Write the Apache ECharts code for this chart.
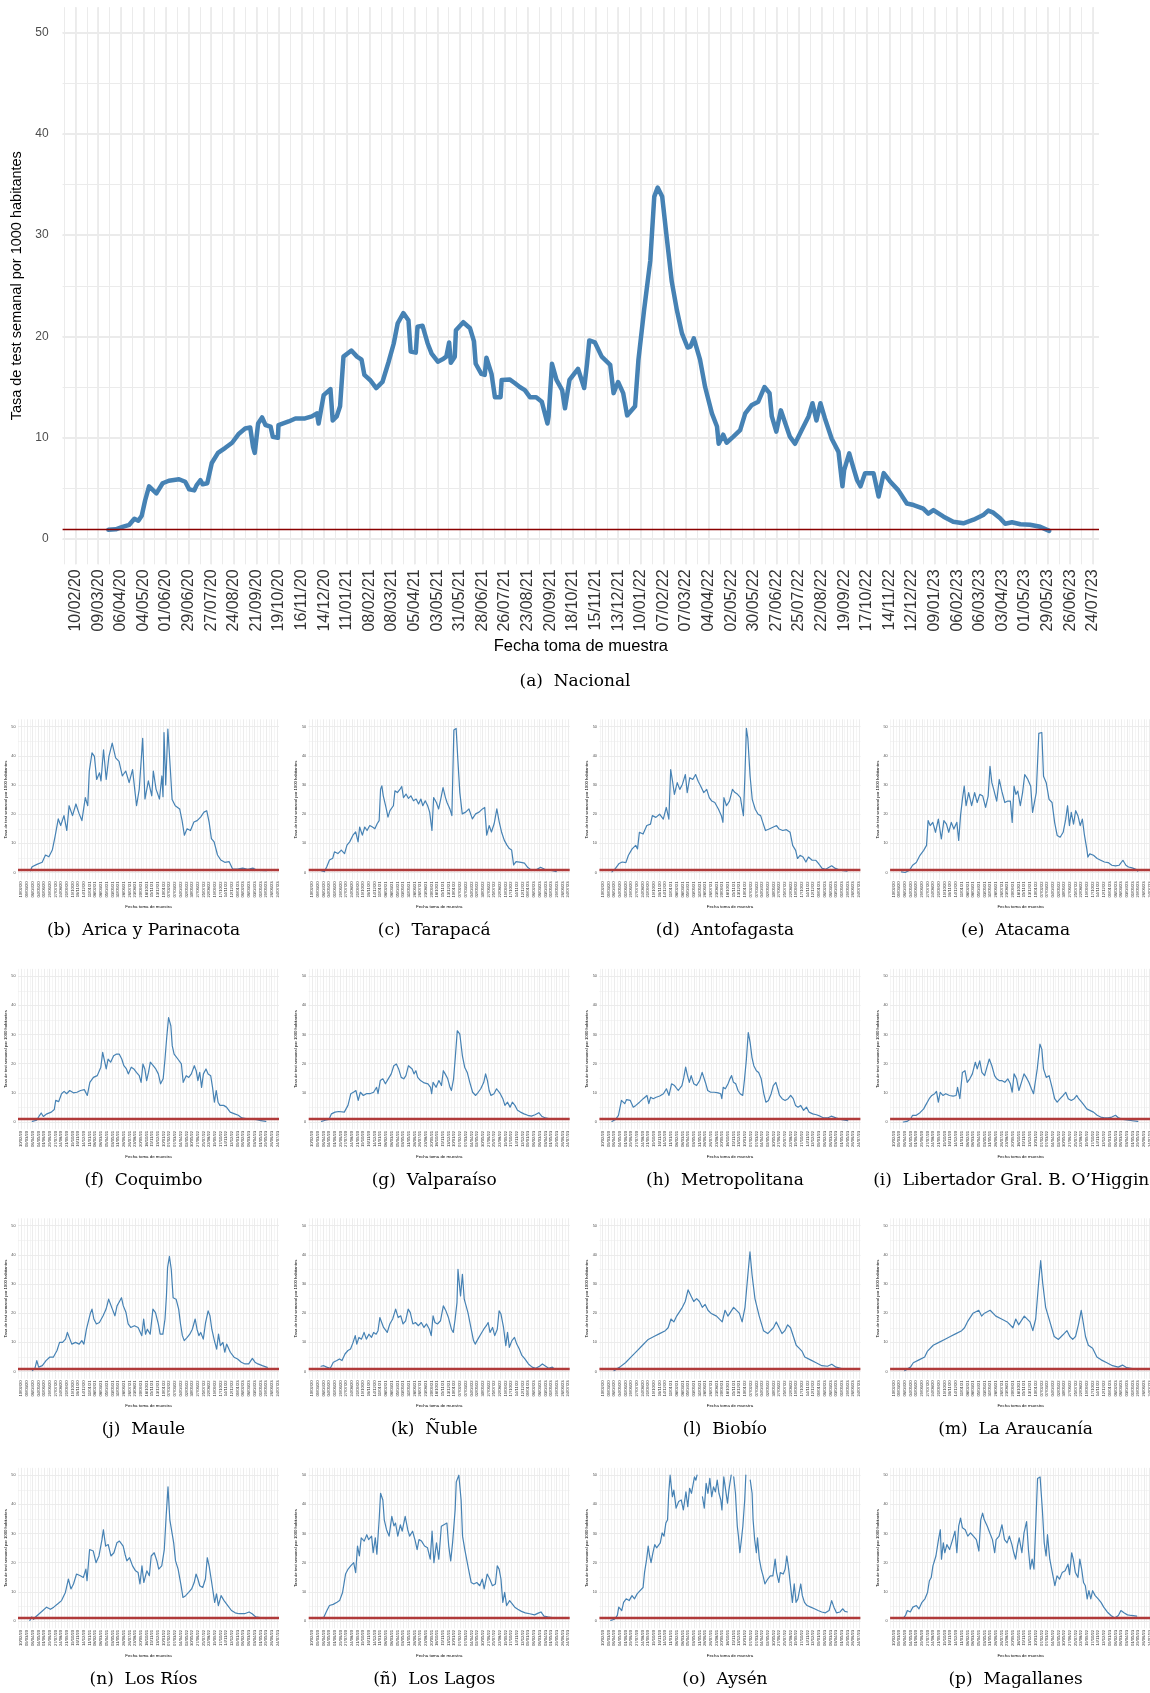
<!DOCTYPE html>
<html>
<head>
<meta charset="utf-8">
<script src="https://cdn.jsdelivr.net/npm/echarts@6/dist/echarts.min.js"></script>
<style>
  html, body { margin: 0; padding: 0; background: #fff; }
  #chart { width: 1150px; height: 1693px; }
</style>
</head>
<body>
<div id="chart"></div>
<script>
// x values are weeks counted from 10/02/20, y is the weekly test rate per 1000 inhabitants
const dateLabels = ['10/02/20','09/03/20','06/04/20','04/05/20','01/06/20','29/06/20','27/07/20','24/08/20',
  '21/09/20','19/10/20','16/11/20','14/12/20','11/01/21','08/02/21','08/03/21','05/04/21','03/05/21','31/05/21',
  '28/06/21','26/07/21','23/08/21','20/09/21','18/10/21','15/11/21','13/12/21','10/01/22','07/02/22','07/03/22',
  '04/04/22','02/05/22','30/05/22','27/06/22','25/07/22','22/08/22','19/09/22','17/10/22','14/11/22','12/12/22',
  '09/01/23','06/02/23','06/03/23','03/04/23','01/05/23','29/05/23','26/06/23','24/07/23']
const yTicks = [0, 10, 20, 30, 40, 50]
const threshold = 1

const nacional = [[5.8,0.9],[7.1,0.95],[8.3,1.2],[9.5,1.4],[10.4,2.0],[11.1,1.8],[11.7,2.3],[12.3,3.8],[13,5.2],[14.3,4.5],
  [15.4,5.5],[16.5,5.75],[18.3,5.9],[19.4,5.65],[20.1,4.9],[21,4.8],[21.4,5.3],[22.1,5.8],[22.5,5.4],[23.3,5.5],[24.1,7.5],
  [25.2,8.5],[26.5,9.0],[27.7,9.5],[28.9,10.4],[30,10.9],[30.9,11.0],[31.4,9.1],[31.7,8.5],[32.3,11.4],[33,12.0],[33.6,11.25],
  [34.5,11.1],[34.9,10.1],[35.8,10.0],[35.9,11.25],[37.7,11.6],[38.9,11.9],[40.6,11.9],[41.8,12.1],[42.7,12.4],[43,11.4],
  [43.9,14.2],[45.1,14.8],[45.5,11.7],[46.2,12.1],[46.8,13.1],[47.4,18.0],[48.8,18.6],[49.8,18.0],[50.6,17.7],[51.1,16.2],
  [52.1,15.7],[53.2,14.9],[54.3,15.5],[55.4,17.5],[56.3,19.3],[57,21.3],[58,22.3],[58.9,21.6],[59.3,18.5],[60.2,18.4],
  [60.5,20.95],[61.4,21.05],[62.3,19.3],[63,18.3],[64.1,17.5],[65.1,17.8],[65.6,18.0],[66.1,19.4],[66.4,17.4],[67.1,18.0],
  [67.3,20.6],[68.6,21.4],[69.8,20.8],[70.5,19.5],[70.8,17.3],[71.8,16.3],[72.4,16.2],[72.7,17.9],[73.6,16.3],[74.2,14.0],
  [75.2,14.0],[75.4,15.7],[76.8,15.75],[77.7,15.4],[78.6,15.0],[79.5,14.7],[80.4,14.0],[81.5,14.0],[82.5,13.55],[83.5,11.4],
  [83.7,12.1],[84.3,17.3],[85.1,15.7],[86.1,14.7],[86.6,12.9],[87.4,15.7],[88.9,16.8],[90,14.9],[90.5,17.3],[90.9,19.6],
  [91.9,19.4],[93.1,18.0],[94.6,17.2],[95.2,14.4],[96,15.5],[96.9,14.4],[97.6,12.2],[99,13.1],[99.6,17.7],[100.6,22.6],
  [101.7,27.5],[102.4,33.8],[103,34.7],[103.8,33.8],[104.6,29.8],[105.5,25.4],[106.4,22.6],[107.3,20.3],[108.3,18.9],
  [108.8,19.0],[109.4,19.8],[110.5,17.7],[111.4,15.0],[112.6,12.4],[113.5,11.1],[113.8,9.4],[114.6,10.3],[115.2,9.5],
  [116.4,10.1],[117.6,10.75],[118.5,12.4],[119.6,13.2],[120.8,13.55],[121.9,15.0],[122.8,14.4],[123.2,12.1],[124,10.6],
  [124.8,12.7],[125.6,11.4],[126.4,10.1],[127.3,9.4],[128.5,10.75],[129.7,12.1],[130.4,13.4],[131.1,11.7],[131.8,13.4],
  [132.6,11.9],[133.8,9.9],[135,8.6],[135.7,5.2],[136,6.8],[136.9,8.45],[137.6,7.1],[138.3,5.8],[138.9,5.2],[139.7,6.5],
  [141.2,6.5],[142.1,4.2],[143,6.5],[144.1,5.7],[145.6,4.8],[147.1,3.5],[148.3,3.35],[150,3.0],[150.9,2.5],[151.8,2.85],
  [153.6,2.2],[155.3,1.7],[157.1,1.55],[158.9,1.9],[160.7,2.4],[161.5,2.8],[162.4,2.6],[163.6,2.05],[164.5,1.5],[165.7,1.65],
  [167.2,1.45],[168.9,1.4],[170.7,1.2],[172.3,0.8]]

const arica = [[6.4,0.6],[7.6,2.0],[11,2.8],[14.7,3.5],[17,6.0],[19.4,5.4],[21.8,7.7],[23.7,12.2],[26,18.4],[27.7,16.1],
  [30,19.5],[32,14.4],[33.6,22.9],[36,19.5],[38.4,23.5],[40.7,20.1],[42.6,17.8],[45,25.7],[46.7,22.9],[47.8,34.8],[49.7,41.0],
  [51.4,39.8],[53,31.9],[55,34.2],[56,31.4],[57.8,42.1],[59.7,31.9],[61.6,39.8],[63.9,44.4],[66.3,39.3],[68.7,38.1],[71,33.1],
  [73.4,34.8],[75.8,30.8],[78.2,35.3],[81,22.9],[82.9,28.6],[85.3,46.0],[86.9,25.2],[89.3,31.4],[91.7,26.3],[92.8,34.8],
  [94.7,28.6],[97.1,25.2],[98.8,33.1],[99.6,26],[100.3,48],[101.5,30],[103,49.2],[104.8,35],[106,25],[108.2,22.9],[111.3,21.8],
  [113,17.8],[114.6,12.8],[116.5,15.0],[118.9,14.4],[121.3,17.3],[123.6,17.8],[126,19.0],[128.4,20.7],[130.3,21.2],[132,17.3],
  [133.6,11.6],[135.5,10.5],[137.9,6.0],[140.2,4.3],[143,3.5],[146.1,3.7],[148.5,1.2],[152,1.2],[155.6,1.5],[159.2,1.1],
  [162.7,1.5],[165,0.9],[167.5,0.7],[172.2,0.6]]

const tarapaca = [[6.4,0.6],[8.7,0.3],[10.4,2.0],[12.3,4.3],[14.6,4.9],[15.8,7.1],[18.2,6.5],[20.6,7.7],[21.7,8.2],[22.9,6.5],
  [24.6,9.4],[26.5,10.5],[28.8,12.8],[30.7,13.9],[32.4,10.5],[33.5,15.6],[35.4,12.8],[37.1,15.6],[38.7,14.4],[40.6,16.1],
  [42.5,15.6],[44.2,15.0],[45.8,16.7],[47.2,17.8],[48.2,28.6],[49.1,29.7],[50.1,26.3],[52,22.3],[53.4,19.0],[54.8,21.2],
  [57.2,22.9],[58.3,28.0],[60,27.4],[61.9,28.6],[63.1,29.5],[64.3,25.7],[66.1,26.9],[67.8,25.4],[69.5,26.3],[71.3,24.6],
  [73.2,25.2],[74.9,23.5],[76.5,25.2],[77.9,22.9],[79.6,24.6],[81.3,22.9],[82.7,20.7],[84.3,14.4],[85.5,25.7],[87.4,24.0],
  [89,21.8],[90.7,25.7],[92.1,29.1],[93.8,25.7],[94.9,24.0],[96.9,21.8],[98.3,19.5],[99.7,48.9],[101.3,49.4],[102.5,38.7],
  [103.9,27.4],[105.6,20.1],[108,20.7],[110.3,21.8],[112.7,18.4],[115,20.1],[117.4,20.7],[119.8,21.8],[121.4,22.3],[122.8,12.8],
  [124.5,16.1],[126.1,13.9],[128,16.7],[129.9,21.8],[131.6,17.3],[133.2,13.9],[135.1,11.1],[137,9.4],[138.7,8.2],[140.3,7.7],
  [141.7,2.6],[143.4,3.7],[146.9,3.5],[149.3,3.2],[151.7,1.7],[154,0.9],[157.6,0.9],[160.6,1.8],[163.5,1.1],[168.2,0.7],[171.7,0.3]]

const antofagasta = [[6.5,0.2],[9,1.4],[11.6,3.1],[13.7,3.6],[16.3,3.4],[18.1,5.9],[20.7,8.1],[23.2,9.3],[24.5,8.1],[25.8,13.8],
  [28.4,13.2],[31,16.1],[33.6,16.6],[34.9,19.5],[37.4,18.9],[40,20.0],[42.6,18.3],[44.7,22.3],[46.5,18.3],[47.8,35.3],[49.1,31.3],
  [50.4,26.8],[52.4,30.8],[54.2,28.5],[56,30.2],[58.1,33.6],[59.4,27.4],[61.2,32.5],[63.3,31.9],[65.3,33.6],[67.1,31.3],[68.9,29.6],
  [71,27.4],[73.1,28.5],[74.9,25.7],[76.7,24.5],[78.8,24.0],[81.4,21.7],[83.4,19.5],[84.5,17.2],[85.2,25.7],[87,22.9],[89.1,24.5],
  [91.2,28.5],[93,27.4],[94.8,26.8],[96.8,25.7],[98.1,21.7],[98.9,19.5],[99.9,32.5],[101,49.4],[102,46.0],[103.6,33.0],[105.1,25.1],
  [107.2,21.7],[109.2,20.0],[111,19.5],[112.9,16.6],[114.4,14.4],[117,14.9],[119.6,15.5],[122.2,16.1],[124,14.9],[126.5,14.4],
  [129.1,14.7],[131.7,13.8],[133.5,9.3],[135.6,7.6],[136.9,4.8],[138.7,5.9],[140.8,5.3],[142.8,3.6],[144.6,5.3],[147.2,4.2],
  [149.8,4.2],[151.6,3.1],[154.2,1.4],[156.8,1.1],[158.8,1.7],[160.9,2.3],[163.5,1.4],[166.6,0.8],[171.7,0.5]]

const atacama = [[5.7,0.2],[8.3,0],[11.4,0.8],[13.5,2.5],[16.1,3.4],[18.7,5.9],[21.3,7.6],[23.3,9.3],[24.4,17.8],[25.9,16.1],
  [27.7,17.2],[29.6,13.8],[31.6,18.3],[33.7,11.5],[35.5,17.8],[37.3,16.6],[38.9,13.8],[40.7,17.2],[42.5,14.9],[44.6,17.2],
  [45.9,11.0],[47.2,19.5],[48.5,25.1],[49.8,29.6],[51.1,22.9],[52.9,27.4],[55,22.9],[57.1,27.4],[58.9,24.0],[60.7,26.8],
  [62.8,26.2],[64.8,22.3],[66.6,26.2],[67.9,36.4],[69.2,30.8],[70.5,28.5],[72.6,24.5],[74.4,31.9],[76.2,27.9],[78.3,24.0],
  [80.4,24.5],[82.2,24.5],[83.5,17.2],[84.8,29.6],[86.1,26.8],[87.4,27.9],[89.2,22.9],[90.8,27.4],[92.3,33.6],[94.4,32.0],
  [96.5,29.6],[97.8,20.6],[99.1,20.0],[100.4,27.4],[102.2,47.7],[104.3,48.0],[105.5,33.0],[107.4,30.8],[109.4,25.1],[111.5,24.0],
  [113.3,17.2],[115.1,12.7],[117.2,12.1],[119.3,13.8],[121.1,18.3],[122.4,22.9],[123.7,16.1],[125,20.6],[126.6,16.6],[128.1,21.2],
  [129.7,19.5],[131.3,16.1],[132.8,18.3],[134.3,12.7],[135.9,8.1],[136.7,5.3],[138,6.4],[140.6,5.9],[143.2,4.8],[145.7,4.2],
  [148.3,3.6],[150.9,3.4],[153.5,2.5],[156.1,2.3],[158.7,2.5],[161.3,4.2],[163.4,2.5],[165.2,1.9],[167.8,1.6],[170.4,1.1],[171.7,0.5]]

const coquimbo = [[7.7,0.2],[10.8,0.6],[12.9,2.3],[14,3.1],[15.5,1.9],[18,2.8],[21.1,3.4],[23.2,4.3],[24.2,7.4],[26.3,7.0],
  [28.3,9.7],[30.1,10.5],[31.9,9.7],[34,10.8],[36.6,10.0],[39.1,10.2],[41.7,10.8],[44.3,11.1],[46.4,9.1],[48.2,13.6],[50.7,15.3],
  [53.4,15.9],[55.9,18.8],[57.2,23.9],[58.5,21.0],[59.7,18.2],[61,21.6],[62.8,20.5],[64.9,22.7],[67,23.3],[68.8,23.3],[70.6,21.6],
  [72.1,19.3],[73.9,18.2],[75.2,16.5],[77.3,18.8],[79.1,18.2],[80.9,17.0],[82.9,15.9],[84.2,13.6],[85.5,19.9],[86.8,18.2],
  [88.1,14.2],[89.4,17.0],[90.7,20.5],[92.7,19.3],[94.5,18.2],[96.3,16.5],[97.9,13.1],[99.7,14.8],[101,21.6],[102.2,29.0],
  [103.5,35.8],[105.1,33.0],[106.1,26.1],[107.4,23.3],[110,21.6],[112.5,19.9],[113.8,13.6],[115.9,15.9],[117.7,15.3],[119.5,16.5],
  [121.6,19.3],[122.9,17.6],[124.1,14.2],[125.4,17.0],[126.7,11.9],[128,16.5],[129.8,18.2],[131.3,16.5],[133.1,15.9],[134.4,11.9],
  [135.7,6.8],[137,10.8],[138.3,6.8],[139.6,5.7],[142.2,5.7],[144.2,5.1],[146.8,3.4],[149.9,2.8],[152.5,2.3],[155,1.4],[158.9,1.1],
  [162.2,1.1],[165.3,0.8],[168.4,0.5],[171.8,0.2]]

const valparaiso = [[6.7,0.2],[9.3,0.6],[11.9,0.9],[13.7,2.8],[16.2,3.4],[18.8,3.6],[22.7,3.4],[25.3,5.7],[27.3,9.7],[29.1,10.2],
  [30.9,10.8],[32.5,7.4],[34,10.2],[36.1,9.1],[38.2,9.7],[40.7,9.7],[43.3,10.2],[45.4,11.9],[46.4,9.7],[48,14.2],[49.8,14.8],
  [51.6,13.1],[53.6,14.8],[55.7,16.5],[57.5,19.3],[59.3,19.9],[60.9,18.2],[62.7,15.3],[64.5,14.8],[66,15.9],[67.8,19.3],[69.1,19.9],
  [70.4,18.2],[71.7,16.5],[73,17.6],[74.3,15.3],[76.3,14.2],[78.9,13.4],[81.5,13.1],[83.3,11.9],[84.1,9.7],[85.1,13.6],[87.2,11.9],
  [89.2,14.2],[91,12.5],[92.3,17.6],[93.6,16.5],[95.4,14.8],[97,11.9],[98,10.8],[99.5,14.8],[100.8,22.7],[102.1,31.3],[103.9,30.1],
  [105.7,22.7],[107.3,18.8],[109.1,17.0],[110.9,13.6],[112.9,10.2],[115,9.1],[116.8,10.2],[118.6,11.4],[120.7,13.6],[122,16.5],
  [123.3,14.2],[124.5,10.8],[125.8,9.1],[127.9,9.7],[129.7,11.4],[131,11.9],[132.3,9.7],[134.1,8.0],[135.6,5.7],[137.4,6.8],
  [139.2,5.1],[140.8,6.8],[142.6,5.7],[144.4,4.0],[146.5,3.4],[149,2.8],[151.6,2.3],[154.2,2.0],[156.8,2.5],[159.4,3.2],[161.4,2.0],
  [164,1.4],[167.1,1.1],[171,0.9]]

const metropolitana = [[6.5,0.2],[9.1,0.9],[11.1,2.3],[12.2,2.5],[13.2,7.4],[14.2,8.0],[15.5,6.3],[16.8,7.7],[19.4,7.4],[21.5,5.1],
  [23.3,5.7],[25.9,6.8],[28.5,8.0],[31.1,9.1],[32.4,6.3],[33.7,8.5],[35.5,8.0],[37.6,8.5],[40.1,8.9],[42.7,9.7],[44.8,11.4],
  [46.6,9.1],[48.4,13.1],[50.5,12.5],[53.1,10.8],[55.7,12.5],[57,15.3],[58.3,18.8],[59.6,15.9],[60.9,13.6],[62.2,15.9],[64,13.1],
  [66,12.5],[68.1,14.2],[69.9,17.0],[71.2,16.5],[72.5,13.1],[73.8,10.8],[75.9,10.2],[78.5,10.2],[81.1,10.0],[82.9,9.7],[83.7,8.0],
  [84.7,11.9],[86.2,11.4],[88.1,13.1],[89.4,14.8],[90.6,15.9],[91.9,13.6],[93.5,13.1],[95.1,10.8],[96.6,9.7],[98.4,9.1],[99.7,14.8],
  [101,21.6],[102.3,30.7],[103.6,27.3],[104.9,22.2],[106.2,19.3],[108,17.6],[109.6,17.0],[111.4,14.8],[113.2,9.7],[114.7,6.8],
  [116.5,7.4],[118.4,9.7],[119.9,12.5],[121.7,13.6],[123,11.4],[124.3,9.1],[126.1,8.0],[128.2,7.4],[130.3,8.0],[132.1,9.1],
  [133.9,8.0],[135.5,5.7],[137.3,5.1],[139.1,5.7],[141.2,4.0],[143.2,5.1],[145,3.4],[147.6,2.8],[150.2,2.5],[152.8,2.0],[155.4,1.4],
  [158,1.4],[160.6,2.0],[161.9,2.3],[163.9,1.4],[167.1,0.9],[172.2,0.5]]

const ohiggins = [[7,0],[9.6,0.2],[12.2,1.1],[13.5,2.3],[16.1,2.3],[18.7,3.2],[21.3,4.5],[22.6,5.7],[23.9,5.1],[25.2,8.0],[27,9.1],
  [29,9.7],[30.3,10.5],[31.6,6.8],[32.9,10.2],[34.8,9.1],[36.8,9.7],[39.4,9.1],[42,8.9],[44.1,9.1],[45.1,11.9],[46.7,8.0],[48.5,17.0],
  [50.3,17.6],[51.9,13.6],[53.7,14.8],[55.5,16.5],[57.6,20.5],[58.9,18.2],[60.7,21.0],[62.2,17.0],[64.1,15.9],[65.4,18.2],[67.4,21.6],
  [69.2,19.3],[71.1,15.9],[72.6,14.8],[74.4,14.2],[76.2,14.2],[78.3,13.6],[80.4,14.8],[82.2,13.1],[83.5,10.2],[84.8,16.5],[86.6,14.8],
  [88.2,10.8],[90,13.6],[91.8,16.5],[93.4,15.3],[95.2,13.6],[97,11.4],[98.5,9.7],[99.6,10.2],[101.1,18.2],[103,26.7],[104.3,25.0],
  [105.5,18.2],[107.4,15.3],[109.4,15.9],[111.5,11.9],[113.3,8.0],[115.1,6.8],[117.2,8.0],[119.3,9.1],[121.1,10.2],[122.9,8.0],
  [125,7.4],[127.1,8.0],[128.9,9.1],[130.2,8.0],[132.3,6.8],[134.1,5.7],[135.9,4.5],[138,4.0],[140.6,3.4],[143.2,2.3],[145.7,1.7],
  [148.3,1.4],[150.9,1.4],[153.5,1.7],[156.1,2.3],[158.2,1.4],[161.3,0.9],[165.2,0.6],[171.7,0.2]]

const maule = [[7.8,0.3],[9.6,1.1],[10.9,3.75],[12.2,1.5],[14.8,2.0],[17.4,3.75],[19.9,4.9],[22.5,4.9],[23.8,5.5],[25.1,7.2],
  [26.9,10.0],[29,10.0],[31.1,11.1],[32.4,13.4],[33.7,11.7],[35.5,9.4],[38.1,10.0],[40.7,9.4],[42.5,10.6],[44,9.4],[45.8,14.5],
  [47.1,15.1],[48.4,19.7],[49.7,21.4],[51,18.0],[52.8,16.3],[54.9,16.8],[57.5,19.1],[59.6,21.4],[61.4,24.8],[62.7,24.2],[64,21.4],
  [65.8,19.1],[67.3,22.5],[69.2,24.2],[70.4,25.3],[71.7,22.5],[73.6,20.2],[75.1,16.3],[76.9,15.1],[79.5,15.7],[82.1,15.1],[83.4,15.7],
  [84.7,12.3],[86,18.0],[87.3,12.8],[88.6,14.5],[90.6,12.8],[92.5,21.4],[94.3,20.2],[96.3,16.3],[97.6,12.8],[99.5,12.8],[101,18.0],
  [102,25.9],[102.8,35.6],[104.1,39.5],[105.4,35.0],[106.7,25.3],[108.8,24.8],[110.6,21.4],[111.9,16.3],[113.2,12.3],[114.5,10.6],
  [116.6,11.7],[118.4,12.8],[120.2,14.5],[122.2,18.0],[123.5,14.5],[124.8,12.3],[126.1,13.4],[127.9,11.1],[129.5,16.8],[131.3,20.8],
  [132.6,19.1],[133.9,14.5],[135.7,10.6],[137.3,7.7],[138.6,12.8],[139.9,8.9],[141.7,10.0],[143,6.6],[144.3,9.4],[146.9,6.6],
  [149.5,4.9],[152,4.3],[154.6,3.2],[157.2,2.6],[159.8,2.6],[162.4,4.5],[164.2,3.2],[166.3,2.6],[169.4,2.0],[172.8,1.4]]

const nuble = [[6.4,1.8],[8.3,2.0],[10.3,1.5],[11.6,2.0],[12.9,1.1],[15,3.2],[17.5,3.75],[19.3,4.3],[21.1,3.75],[23.2,6.0],[25.3,7.2],
  [27.1,7.7],[28.9,10.0],[30.4,12.3],[31.5,9.4],[33,11.7],[34.8,11.1],[36.6,13.4],[38.2,11.1],[40,12.8],[41.8,11.7],[43.3,13.4],
  [45.1,12.8],[46.4,14.0],[47.7,18.5],[49,19.1],[50.3,15.1],[51.6,14.5],[52.9,13.4],[54.7,16.3],[56.7,18.0],[58.8,21.4],[60.6,18.5],
  [62.4,19.1],[64,16.3],[65.8,17.4],[67.6,21.4],[69.1,20.2],[70.9,16.3],[72.7,16.8],[74.8,15.7],[76.8,16.8],[78.7,15.1],[80.5,16.3],
  [82.5,14.5],[83.8,12.3],[85.1,19.1],[86.4,16.8],[88.2,16.3],[90.3,17.4],[92.3,22.5],[94.1,20.8],[95.9,18.5],[98,14.5],[99.3,13.4],
  [100.6,18.0],[101.9,23.6],[102.6,35.0],[103.7,29.3],[104.4,25.9],[105.7,33.3],[107,24.8],[108.3,22.5],[109.6,20.2],[111.4,15.7],
  [113.5,10.6],[114.7,9.4],[116.6,11.1],[118.6,12.8],[120.7,14.5],[122.5,15.7],[123.8,16.8],[125.1,13.4],[126.9,15.1],[128.4,12.3],
  [130.2,14.5],[131.5,20.8],[132.8,19.7],[134.6,15.1],[136.2,8.9],[137.4,13.4],[138.7,8.3],[140.5,10.6],[142.3,11.7],[143.9,9.4],
  [145.7,7.7],[147.5,5.5],[149.6,4.3],[152.1,2.6],[154.7,1.5],[157.3,1.1],[159.9,1.8],[161.9,2.6],[163.7,2.0],[166.3,1.1],[168.9,1.5],
  [170.7,0.7]]

const biobio = [[8,0.3],[12,1.5],[16,3],[20,5],[24,7],[28,9],[32,11],[36,12],[40,13],[44,14],[46,15],[48,18],[50,17],[52,19],
  [56,22],[58,24],[60,28],[62,26],[64,24],[66,25],[68,24],[70,22],[72,23],[74,21],[76,20],[80,19],[84,17],[86,21],[88,19],[92,22],
  [96,20],[98,17],[100,22],[102,33],[103.5,41],[105,33],[107,25],[110,19],[113,14],[116,13],[118,14],[120,15],[122,17],[124,15],
  [126,13],[128,14],[130,16],[132,15],[134,12],[136,9],[138,8],[140,7],[142,5],[146,4],[150,3],[154,2],[158,1.8],[161,2.5],
  [164,1.5],[168,1],[172,0.8]]

const araucania = [[8,0.3],[12,1.5],[14,3],[18,4],[22,5],[24,7],[28,9],[32,10],[36,11],[40,12],[44,13],[48,14],[50,15],[52,17],
  [56,20],[60,21],[62,19],[64,20],[68,21],[72,19],[76,18],[80,17],[84,15],[86,18],[88,16],[92,19],[96,17],[98,14],[100,18],
  [102,30],[103.5,38],[105,30],[107,22],[110,17],[113,12],[116,11],[118,12],[120,13],[122,14],[124,12],[126,11],[128,12],[130,16],
  [132,21],[133,18],[135,12],[137,9],[140,8],[143,5],[146,4],[150,3],[154,2],[158,1.5],[161,2.2],[164,1.3],[168,1],[172,0.6]]

const losRios = [[6,0.2],[7.3,1.4],[8.7,0.6],[10,1.4],[12.6,2.5],[15.2,3.6],[17.8,4.75],[20.5,4.0],[22.8,4.75],[25.7,5.9],[28.3,7.0],
  [31,9.8],[32.3,10.4],[33.1,14.4],[34.9,11.0],[36.7,12.7],[38.8,16.1],[41.5,15.5],[43.6,14.9],[45.4,17.8],[46.2,13.8],[48,24.5],
  [50.6,24.0],[52.5,20.0],[54.6,22.3],[56.7,27.9],[57.7,31.3],[59.3,25.7],[61.1,26.2],[63,22.3],[65.1,23.4],[67.2,26.8],[69,27.4],
  [70.3,27.9],[71.6,25.7],[72.9,22.9],[74.2,20.6],[76.1,21.7],[78.2,18.9],[80.3,17.2],[82.1,16.6],[83.4,12.7],[84.8,18.9],[86.1,13.2],
  [88.2,17.2],[90,15.5],[91.3,22.3],[93.4,23.4],[95.3,20.6],[96.6,17.8],[98.7,18.9],[100.5,24.5],[101.8,35.9],[103.1,46.0],
  [104.4,34.7],[105.7,35.3],[107.1,26.8],[108.4,20.6],[110.2,17.8],[112.3,12.1],[113.6,8.1],[115.5,8.7],[117.6,9.8],[119.7,11.0],
  [121.5,13.2],[122.8,16.1],[124.1,14.4],[125.4,12.1],[127.5,11.5],[129.4,14.4],[130.7,21.7],[132,18.9],[133.8,13.2],[135.9,6.4],
  [137.2,9.3],[138.5,5.3],[140.4,8.7],[142.5,7.0],[145.1,5.3],[147.7,3.6],[150.3,2.8],[153,2.5],[156.9,2.5],[160.1,3.1],[162.2,2.5],
  [164.8,1.4],[170,1.0],[172.1,0.8]]

const losLagos = [[5.8,0.8],[8.4,1.4],[10.5,3.6],[12.3,5.3],[14.9,5.7],[17.6,6.4],[19.4,7.0],[21.5,9.8],[23.6,16.1],[25.4,17.8],
  [27.2,18.9],[29.3,20.0],[30.7,16.6],[32,25.7],[33.3,22.3],[34.6,28.5],[36.7,27.4],[38.5,29.6],[39.8,27.9],[41.9,29.1],[43,23.4],
  [44.5,28.5],[45.6,22.9],[47.2,34.7],[48.2,43.8],[49.8,41.5],[50.8,34.7],[52.4,31.3],[54.2,29.1],[56.1,35.9],[57.6,32.6],[58.7,33.6],
  [60.3,29.1],[62.1,33.0],[63.4,30.8],[65.5,35.9],[67.3,31.3],[68.6,29.1],[70.7,30.8],[72.6,27.4],[73.9,24.5],[75.2,27.9],[77,27.4],
  [79.1,25.7],[81.2,25.1],[83.1,21.2],[84.4,30.8],[85.7,20.0],[87.5,26.8],[89.1,21.2],[90.9,32.5],[92.7,33.0],[94.8,33.6],[96.1,25.7],
  [97.5,20.6],[98.8,26.8],[100.6,38.1],[101.4,47.7],[103.2,50.0],[104.8,41.5],[105.8,29.1],[107.4,24.5],[108.5,25.1],[110,17.8],
  [111.9,13.2],[113.7,12.7],[115.8,13.2],[117.9,12.1],[119.7,14.4],[121,11.0],[123.1,16.1],[124.9,14.4],[126.8,12.1],[128.9,12.7],
  [130.2,18.9],[131.5,17.8],[132.8,14.4],[134.1,6.4],[135.4,9.8],[136.8,5.3],[138.9,7.0],[140.7,5.9],[142.5,4.75],[144.6,4.0],
  [147.2,3.3],[149.9,2.8],[153,2.5],[156.4,2.1],[159,2.7],[160.9,3.1],[163,1.7],[165.6,1.4],[170.8,1.0]]

// values above 50 fall outside the scale and leave gaps, as in the original
const aysen = [[5.7,0.2],[8.3,0.6],[10.3,1.9],[11.3,4.75],[13.4,3.6],[14.7,6.4],[16.5,7.6],[18.6,7.0],[20.6,8.7],[22.4,7.6],
  [24.2,9.3],[26.3,10.4],[28.4,11.5],[29.4,16.6],[30.9,21.2],[32,25.7],[33,22.3],[34,20.0],[35.3,23.4],[36.6,26.2],[37.9,25.1],
  [39.2,24.5],[40.5,26.8],[41.8,30.2],[43.1,29.1],[44.4,33.6],[45.6,34.7],[46.4,43.8],[47.4,50],[49,42.6],[50,44.9],[51.6,38.7],
  [53.4,41.0],[55.2,41.5],[56.7,38.1],[58.5,44.3],[59.8,39.2],[61.1,45.5],[62.4,43.8],[64.5,49.4],[65.5,48.3],[66.3,50],[67,null],
  [70.1,42.6],[71.4,38.7],[72.7,47.2],[74,43.8],[75.3,48.9],[76.6,42.6],[77.9,46.0],[79.2,44.3],[80.5,48.3],[81.7,43.8],[83,41.5],
  [83.8,38.1],[85.1,49.4],[86.1,46.0],[87.7,40.4],[88.7,44.9],[90.3,50],[91,null],[92.1,49.4],[93.3,43.8],[94.6,32.5],[95.4,29.1],
  [96.4,23.4],[97.5,27.9],[98.5,32.5],[99.8,41.5],[100.6,50],[101.5,null],[103.7,48.3],[105,43.8],[105.7,34.7],[106.8,27.9],[108,23.4],
  [108.8,28.5],[110.1,21.2],[111.4,17.8],[112.7,15.5],[114,12.7],[116,14.4],[117.8,15.5],[119.6,15.5],[121.2,21.2],[122.2,16.6],
  [123.8,13.2],[124.8,16.6],[126.9,16.1],[128.2,17.8],[129.4,22.3],[130.7,17.8],[132,12.1],[133.3,6.4],[134.6,12.7],[135.9,6.4],
  [137.2,7.6],[139.2,12.7],[140.3,8.7],[141.8,6.4],[143.6,5.3],[146.2,4.75],[148.8,4.2],[151.4,3.6],[153.9,3.1],[156.5,2.8],
  [159.1,3.6],[160.9,7.0],[162.5,4.75],[164.3,2.8],[166.8,3.1],[168.6,4.2],[170.2,3.3],[172,3.1]]

const magallanes = [[6.7,0.8],[8.5,1.9],[9.8,3.6],[11.9,3.1],[13.7,4.75],[16.2,5.3],[18,4.2],[20.1,6.4],[22.2,7.6],[24,9.8],
  [25.3,13.8],[26.6,14.9],[27.8,18.9],[29.9,22.3],[31.7,27.9],[33,31.3],[33.8,21.2],[35.1,26.8],[36.1,23.4],[37.6,26.2],[39.5,24.5],
  [41.3,27.4],[43.3,30.8],[44.6,23.4],[45.9,32.5],[47.2,35.3],[48.5,32.0],[50.5,31.3],[52.3,29.1],[54.2,30.2],[56.2,29.1],[58.3,27.9],
  [60.1,24.0],[61.4,34.7],[62.7,37.0],[63.9,34.7],[66,32.5],[67.8,30.2],[69.6,27.9],[71.2,23.4],[72.2,27.9],[74.3,29.1],[76.3,33.0],
  [78.1,27.9],[79.9,26.8],[81.5,29.1],[83.3,26.2],[84.6,23.4],[85.9,21.2],[87.2,25.7],[88.4,28.5],[90.3,23.4],[91.8,30.2],[93.6,34.1],
  [94.9,24.5],[96.2,17.8],[97.5,21.2],[98.8,17.8],[100.1,33.6],[101.3,48.9],[103.1,49.4],[104.7,38.1],[106,26.8],[107.3,22.3],
  [108.3,29.6],[109.9,21.2],[111.7,16.6],[113.5,12.1],[115,15.5],[116.8,14.4],[118.6,16.6],[120.7,17.2],[122.7,19.5],[123.8,15.9],
  [125.3,23.4],[126.4,21.2],[127.9,16.6],[129.7,14.9],[131,21.2],[132.3,17.8],[133.6,13.2],[134.9,12.1],[136.2,7.6],[137.4,10.4],
  [138.7,7.6],[140,10.4],[141.8,8.7],[143.9,7.6],[145.9,6.4],[147.8,4.75],[150.3,3.1],[152.9,1.9],[155.5,1.0],[158.1,1.9],[159.9,3.6],
  [162,2.8],[164.5,2.1],[167.1,1.9],[171,1.7]]

const regionNames = ['(b)  Arica y Parinacota','(c)  Tarapacá','(d)  Antofagasta','(e)  Atacama',
  '(f)  Coquimbo','(g)  Valparaíso','(h)  Metropolitana','(i)  Libertador Gral. B. O’Higgins',
  '(j)  Maule','(k)  Ñuble','(l)  Biobío','(m)  La Araucanía',
  '(n)  Los Ríos','(ñ)  Los Lagos','(o)  Aysén','(p)  Magallanes']
const regionSeries = [arica, tarapaca, antofagasta, atacama, coquimbo, valparaiso, metropolitana, ohiggins,
  maule, nuble, biobio, araucania, losRios, losLagos, aysen, magallanes]

const X_MIN = -2.3, X_MAX = 181.1
const Y_MIN = -2.5, Y_MAX = 52.5
const FONT = '"Liberation Sans", Arial, sans-serif'
const GRID = '#ebebeb'
const LINE = '#4682b4'

const majorWeeks = dateLabels.map((_, i) => i * 4)
const minorWeeks = []
for (let w = -2; w <= 180; w += 2) minorWeeks.push(w)
const yMinor = []
for (let v = 0; v <= 50; v += 5) yMinor.push(v)

const MAIN_STYLE = {
  lineW: 4.5, redColor: '#8b0000', redW: 1.3, minorW: 1, majorW: 1.8,
  yFont: 12, yMargin: 14, xFont: 16, xMargin: 5, xColor: '#333',
  xNameFont: 16.5, xNameGap: 82, yNameFont: 14.5, yNameGap: 43,
}
const SMALL_STYLE = {
  lineW: 1.2, redColor: '#b03a3a', redW: 2.4, minorW: 0.5, majorW: 0.9,
  yFont: 3.8, yMargin: 2.5, xFont: 4.2, xMargin: 1.5, xColor: '#333',
  xNameFont: 4.4, xNameGap: 27, yNameFont: 4.2, yNameGap: 11,
}

const grids = [], xAxes = [], yAxes = [], series = [], graphics = []

function addPanel(box, data, s) {
  const gi = grids.length
  grids.push({ left: box.left, top: box.top, width: box.width, height: box.height,
    containLabel: false, outerBoundsMode: 'none' })
  const xBase = { type: 'value', gridIndex: gi, min: X_MIN, max: X_MAX,
    axisLine: { show: false, onZero: false } }
  xAxes.push({ ...xBase,
    axisTick: { show: false, customValues: minorWeeks },
    splitLine: { show: true, lineStyle: { color: GRID, width: s.minorW } },
    axisLabel: { customValues: majorWeeks, interval: 0, hideOverlap: false, rotate: 90,
      formatter: v => dateLabels[Math.round(v / 4)] ?? '',
      fontSize: s.xFont, fontFamily: FONT, color: s.xColor, margin: s.xMargin },
    name: 'Fecha toma de muestra', nameLocation: 'middle', nameGap: s.xNameGap,
    nameTextStyle: { fontSize: s.xNameFont, fontFamily: FONT, color: '#000', verticalAlign: 'middle' } })
  xAxes.push({ ...xBase, position: 'bottom',
    axisTick: { show: false, customValues: majorWeeks },
    splitLine: { show: true, lineStyle: { color: GRID, width: s.majorW } },
    axisLabel: { show: false } })
  const yBase = { type: 'value', gridIndex: gi, min: Y_MIN, max: Y_MAX,
    axisLine: { show: false, onZero: false } }
  yAxes.push({ ...yBase,
    axisTick: { show: false, customValues: yMinor },
    splitLine: { show: true, lineStyle: { color: GRID, width: s.minorW } },
    axisLabel: { customValues: yTicks, fontSize: s.yFont, fontFamily: FONT, color: '#4d4d4d', margin: s.yMargin },
    name: 'Tasa de test semanal por 1000 habitantes', nameLocation: 'middle', nameGap: s.yNameGap,
    nameTextStyle: { fontSize: s.yNameFont, fontFamily: FONT, color: '#000', verticalAlign: 'middle' } })
  yAxes.push({ ...yBase, position: 'left',
    axisTick: { show: false, customValues: yTicks },
    splitLine: { show: true, lineStyle: { color: GRID, width: s.majorW } },
    axisLabel: { show: false } })
  series.push({
    type: 'line', xAxisIndex: 2 * gi, yAxisIndex: 2 * gi, data,
    symbol: 'none', showSymbol: false, connectNulls: false, clip: true, silent: true, z: 3,
    lineStyle: { color: LINE, width: s.lineW, join: 'round', cap: 'round' },
    itemStyle: { color: LINE },
    emphasis: { disabled: true },
    markLine: { silent: true, symbol: ['none', 'none'], label: { show: false }, animation: false,
      lineStyle: { type: 'solid', color: s.redColor, width: s.redW }, emphasis: { disabled: true },
      data: [{ yAxis: threshold }] },
  })
}

function addCaption(text, cx, cy) {
  graphics.push({ type: 'text', x: cx, y: cy, silent: true,
    style: { text, fill: '#000', font: '17px "DejaVu Serif", "Liberation Serif", serif',
      align: 'center', verticalAlign: 'middle', textAlign: 'center', textVerticalAlign: 'middle' } })
}

// national panel
addPanel({ left: 62.6, top: 7.2, width: 1036.4, height: 557.1 }, nacional, MAIN_STYLE)
addCaption('(a)  Nacional', 575, 682)

// 4 x 4 regional panels
const COL_W = 290.7, ROW_H = 249.5
regionSeries.forEach((data, i) => {
  const c = i % 4, r = Math.floor(i / 4)
  const left = 18 + c * COL_W, top = 719.4 + r * ROW_H
  addPanel({ left, top, width: 261, height: 160.4 }, data, SMALL_STYLE)
  addCaption(regionNames[i], left + 130.5 - 5, 931 + r * ROW_H)
})

const chart = echarts.init(document.getElementById('chart'), null, { renderer: 'canvas' })
chart.setOption({
  animation: false,
  backgroundColor: '#fff',
  grid: grids,
  xAxis: xAxes,
  yAxis: yAxes,
  series,
  graphic: graphics,
})
</script>
</body>
</html>
